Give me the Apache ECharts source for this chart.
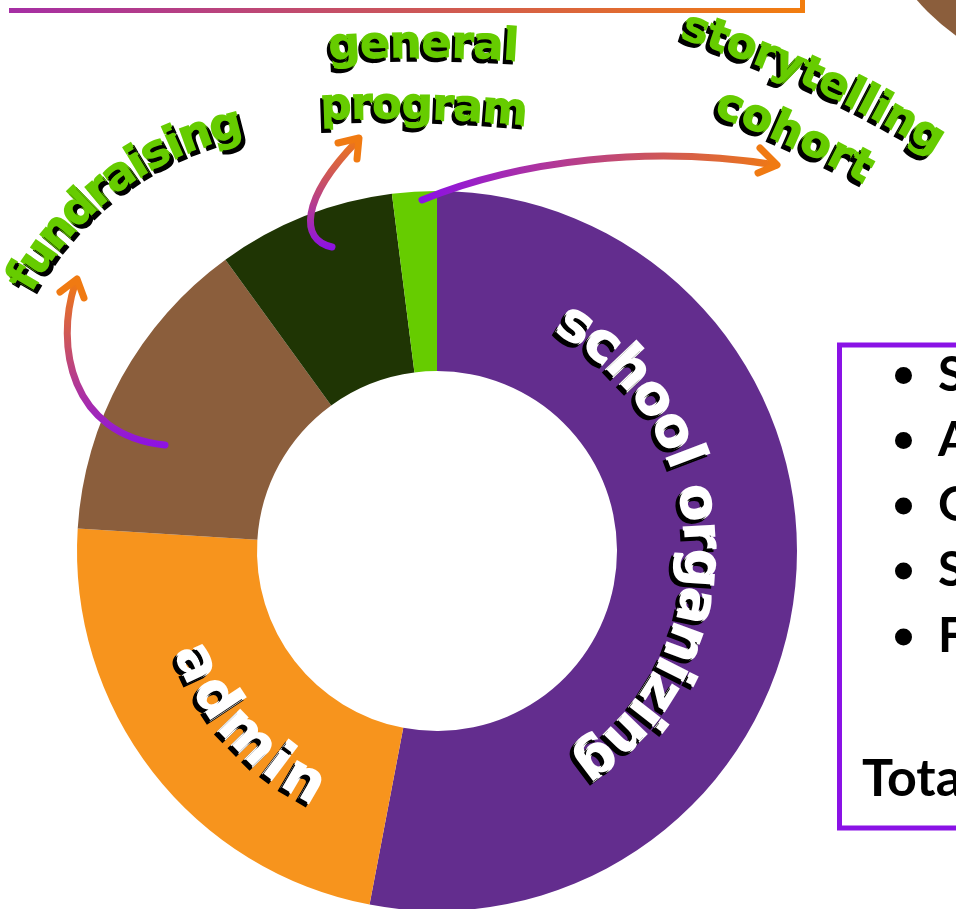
<!DOCTYPE html>
<html><head><meta charset="utf-8">
<script src="https://cdn.jsdelivr.net/npm/echarts@6/dist/echarts.min.js"></script>
<style>html,body{margin:0;padding:0;background:#fff;overflow:hidden}#c{width:956px;height:909px}</style>
</head><body><div id="c"></div>
<script>
// ---- data ----
const categories = ['school organizing', 'admin', 'fundraising', 'general program', 'storytelling cohort'];
const values = [53, 23, 14, 8, 2];
const sliceColors = ['#632d8e', '#f7941d', '#8b5e3c', '#1f3504', '#66cc00'];
const listItems = ['School organizing: 53%', 'Admin: 23%', 'General program: 8%', 'Storytelling cohort: 2%', 'Fundraising: 14%'];
const totalText = 'Total: 100%';

// ---- layout ----
const CX = 437, CY = 551, R0 = 180, R1 = 360;
const FAMILY = '"DejaVu Sans"';
const PURPLE = '#8b10e6', ORANGE = '#f07a12', LABEL_GREEN = '#66cc00';

const chart = echarts.init(document.getElementById('c'), null, { renderer: 'canvas' });
const mctx = document.createElement('canvas').getContext('2d');
function measure(ch, size) { mctx.font = 'bold ' + size + 'px ' + FAMILY; return mctx.measureText(ch).width; }

// place characters of a text along an arc
function arcText(text, o) {
  const chars = [...text];
  const widths = chars.map(c => measure(c, o.size));
  const total = widths.reduce((a, b) => a + b, 0);
  const len = o.len != null ? o.len : o.r * o.span * Math.PI / 180;
  const gap = chars.length > 1 ? (len - total) / (chars.length - 1) : 0;
  const mid = o.mid * Math.PI / 180;
  const els = [];
  let s = -len / 2;
  chars.forEach((c, i) => {
    const sc = s + widths[i] / 2;
    s += widths[i] + gap;
    if (c === ' ') return;
    let th, rot;
    if (o.type === 'top') { th = mid + sc / o.r; rot = -th; }
    else { th = mid - sc / o.r; rot = Math.PI - th; }
    els.push({
      type: 'text', z: 100,
      x: o.cx + o.r * Math.sin(th), y: o.cy - o.r * Math.cos(th), rotation: rot,
      style: {
        text: c, fontSize: o.size, fontFamily: FAMILY, fontWeight: 'bold', fill: o.fill,
        stroke: o.fill, lineWidth: 2.5,
        align: 'center', verticalAlign: 'middle',
        textShadowColor: '#000', textShadowBlur: 0.6, textShadowOffsetX: o.sx, textShadowOffsetY: o.sy
      }
    });
  });
  return els;
}
// top-type arc from its midpoint and tangent angle
function midArc(text, mx, my, aDeg, r, len, size, fill, sx, sy) {
  const a = aDeg * Math.PI / 180;
  return arcText(text, { cx: mx - r * Math.sin(a), cy: my + r * Math.cos(a), r: r, mid: aDeg, len: len, size: size, fill: fill, sx: sx, sy: sy, type: 'top' });
}

const gp = categories[3].split(' ');
const sc = categories[4].split(' ');
const labels = [].concat(
  arcText(categories[0], { cx: CX, cy: CY, r: 262, mid: 87.5, span: 119, size: 54, fill: '#fff', sx: -3, sy: 3, type: 'top' }),
  arcText(categories[1], { cx: CX, cy: CY, r: 268, mid: 227.5, span: 43, size: 55, fill: '#fff', sx: -3, sy: 3, type: 'bottom' }),
  arcText(categories[2], { cx: 307, cy: 443, r: 325, mid: 323.5, span: 50, size: 45, fill: LABEL_GREEN, sx: 3, sy: 3, type: 'top' }),
  midArc(gp[0], 423, 46, 0, 1500, 190, 44, LABEL_GREEN, -2, 3),
  midArc(gp[1], 423.5, 108, 1.5, 1500, 207, 43, LABEL_GREEN, -2, 3),
  midArc(sc[0], 815, 78, 24.5, 1100, 283, 43, LABEL_GREEN, -3, 3),
  midArc(sc[1], 794, 136, 24.4, 1100, 167, 44, LABEL_GREEN, -3, 3)
);

function grad(x0, y0, x1, y1) {
  return new echarts.graphic.LinearGradient(x0, y0, x1, y1, [{ offset: 0, color: PURPLE }, { offset: 1, color: ORANGE }]);
}
function arrow(p0, c1, c2, p3, g, head) {
  return [
    { type: 'bezierCurve', z: 90, shape: { x1: p0[0], y1: p0[1], cpx1: c1[0], cpy1: c1[1], cpx2: c2[0], cpy2: c2[1], x2: p3[0], y2: p3[1] },
      style: { stroke: g, lineWidth: 7, fill: null, lineCap: 'round' } },
    { type: 'polyline', z: 91, shape: { points: head }, style: { stroke: ORANGE, lineWidth: 7, fill: null, lineCap: 'round', lineJoin: 'round' } }
  ];
}

const deco = [].concat(
  // top frame
  [{ type: 'line', z: 5, shape: { x1: 9, y1: 10.5, x2: 803, y2: 10.5 }, style: { stroke: new echarts.graphic.LinearGradient(0, 0, 1, 0, [{ offset: 0, color: '#a52ea5' }, { offset: 1, color: '#f27d0e' }]), lineWidth: 5 } },
   { type: 'line', z: 5, shape: { x1: 802.5, y1: -2, x2: 802.5, y2: 13 }, style: { stroke: '#f27d0e', lineWidth: 5 } },
   { type: 'circle', z: 5, shape: { cx: 1080, cy: -140, r: 215 }, style: { fill: '#8b5e3c' } }],
  arrow([165, 445], [70, 435], [55, 345], [75, 284], grad(0, 1, 0, 0), [[60, 292], [77, 279], [84, 298]]),
  arrow([332, 247], [300, 240], [300, 200], [357, 141], grad(0, 1, 0, 0), [[338, 143], [359, 138], [357, 159]]),
  arrow([422, 200], [520, 160], [650, 145], [776, 165], grad(0, 0, 1, 0), [[760, 148], [777, 165], [758, 173]])
);

// right box
const rowY = [375.5, 440.5, 506, 571, 637];
const box = [{ type: 'rect', z: 5, shape: { x: 839.5, y: 345, width: 300, height: 483 }, style: { fill: null, stroke: '#8a12e6', lineWidth: 5 } }];
listItems.forEach((t, i) => {
  box.push({ type: 'circle', z: 6, shape: { cx: 903.5, cy: rowY[i], r: 8.5 }, style: { fill: '#000' } });
  box.push({ type: 'text', z: 6, x: 938, y: rowY[i], style: { text: t, fontSize: 48, fontFamily: 'Lato', fontWeight: 'bold', fill: '#000', align: 'left', verticalAlign: 'middle' } });
});
box.push({ type: 'text', z: 6, x: 862, y: 779, style: { text: totalText, fontSize: 52, fontFamily: 'Lato', fontWeight: 'bold', fill: '#000', align: 'left', verticalAlign: 'middle' } });

chart.setOption({
  animation: false,
  backgroundColor: '#fff',
  series: [{
    type: 'pie', center: [CX, CY], radius: [R0, R1], startAngle: 90, clockwise: true,
    silent: true, label: { show: false }, labelLine: { show: false },
    itemStyle: { borderWidth: 0 },
    emphasis: { disabled: true },
    data: categories.map((n, i) => ({ name: n, value: values[i], itemStyle: { color: sliceColors[i] } }))
  }],
  graphic: { elements: [].concat(deco, box, labels) }
});
</script></body></html>
